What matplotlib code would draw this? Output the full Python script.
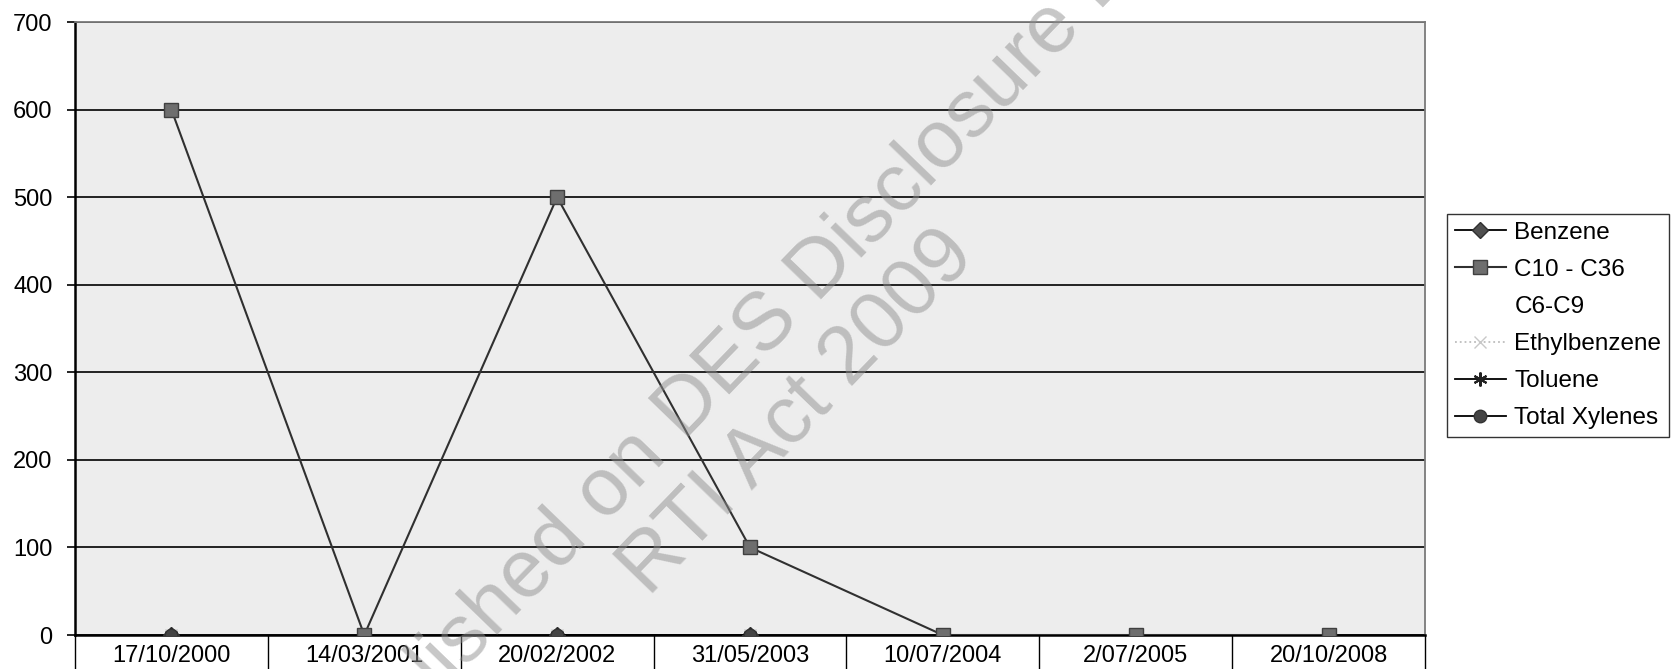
import numpy as np
import matplotlib
matplotlib.use("Agg")
import matplotlib.pyplot as plt

# categories on the x axis (sample dates)
dates = ["17/10/2000", "14/03/2001", "20/02/2002", "31/05/2003",
         "10/07/2004", "2/07/2005", "20/10/2008"]

nan = np.nan
benzene = [0, nan, 0, 0, nan, nan, nan]
c10_c36 = [600, 0, 500, 100, 0, 0, 0]
c6_c9 = [nan, nan, nan, nan, nan, nan, nan]
ethylbenzene = [0, nan, 0, 0, nan, nan, nan]
toluene = [0, nan, 0, 0, nan, nan, nan]
xylenes = [0, nan, 0, 0, nan, nan, nan]

y_ticks = [0, 100, 200, 300, 400, 500, 600, 700]

plt.rcParams['font.family'] = ['Liberation Sans', 'DejaVu Sans']

fig = plt.figure(figsize=(16.73, 6.69), dpi=100)
ax = fig.add_axes([0.0448, 0.0508, 0.8070, 0.9163])
ax.set_facecolor('#ededed')

x = np.arange(len(dates))

ax.plot(x, benzene, color='black', lw=1.3, marker='D', ms=8,
        mfc='#505050', mec='#303030', label='Benzene', zorder=3)
ax.plot(x, c10_c36, color='#303030', lw=1.5, marker='s', ms=10,
        mfc='#6e6e6e', mec='#404040', label='C10 - C36', zorder=3)
ax.plot(x, c6_c9, color='none', lw=0, marker=None, label='C6-C9')
ax.plot(x, ethylbenzene, color='#bdbdbd', lw=1.3, ls=':', marker='x', ms=9,
        mec='#c8c8c8', label='Ethylbenzene', zorder=3)
ax.plot(x, toluene, color='black', lw=1.3, marker=(6, 2, 0), ms=10,
        mec='#222222', mew=1.5, label='Toluene', zorder=4)
ax.plot(x, xylenes, color='black', lw=1.3, marker='o', ms=9,
        mfc='#444444', mec='#333333', label='Total Xylenes', zorder=4)

ax.set_ylim(0, 700)
ax.set_yticks(y_ticks)
ax.tick_params(axis='y', labelsize=17, length=6, width=1.2, direction='out', pad=10)
ax.yaxis.grid(True, color='black', lw=1.2)
ax.set_axisbelow(True)

ax.set_xlim(-0.5, len(dates) - 0.5)
ax.set_xticks(np.arange(-0.5, len(dates)), labels=[])
ax.set_xticks(x, labels=dates, minor=True)
ax.tick_params(axis='x', which='major', length=25, width=1.0, direction='out')
ax.tick_params(axis='x', which='minor', length=0, labelsize=17, pad=7)

for side in ['left', 'bottom']:
    ax.spines[side].set_color('black')
    ax.spines[side].set_linewidth(1.8)
for side in ['top', 'right']:
    ax.spines[side].set_color('#7a7a7a')
    ax.spines[side].set_linewidth(1.3)

leg = fig.legend(loc='upper left', bbox_to_anchor=(0.8649, 1 - 214 / 669),
                 fontsize=17.5, frameon=True, fancybox=False, handlelength=2.1,
                 handletextpad=0.35, borderpad=0.32, labelspacing=0.62,
                 borderaxespad=0)
leg.get_frame().set_edgecolor('black')
leg.get_frame().set_linewidth(1.0)

# scanned watermark
fig.text(751 / 1673, 1 - 342 / 669, "Published on DES Disclosure Log",
         fontsize=59, color='#8f8f8f', alpha=0.5, rotation=46,
         ha='center', va='center', rotation_mode='anchor', zorder=10)
fig.text(797 / 1673, 1 - 413 / 669, "RTI Act 2009",
         fontsize=59, color='#8f8f8f', alpha=0.5, rotation=46,
         ha='center', va='center', rotation_mode='anchor', zorder=10)

fig.savefig("out.png", dpi=100)
